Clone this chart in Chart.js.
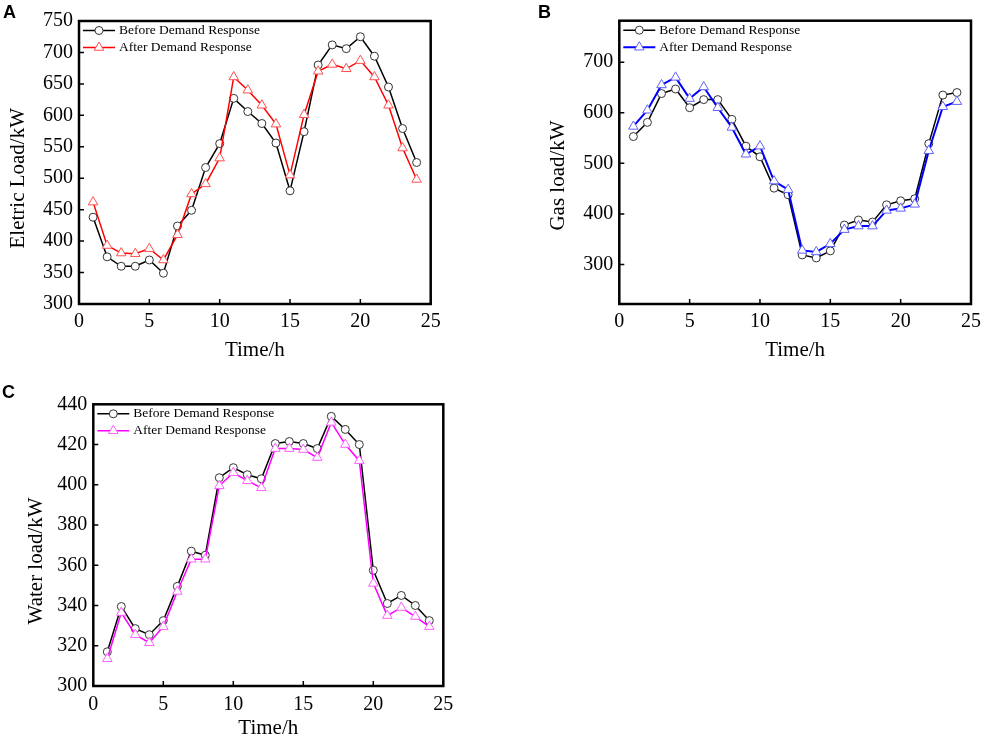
<!DOCTYPE html>
<html>
<head>
<meta charset="utf-8">
<script src="https://cdn.jsdelivr.net/npm/chart.js@4.4.0/dist/chart.umd.min.js"></script>
<style>
  body { margin: 0; background: #fff; width: 982px; height: 736px; position: relative; overflow: hidden; }
  canvas { position: absolute; }
  .tag { position: absolute; font: bold 18px "Liberation Sans", Arial, sans-serif; line-height: 1; color: #000; }
</style>
</head>
<body>
<canvas id="chartA" width="490" height="361" style="left:0;top:0"></canvas>
<canvas id="chartB" width="439" height="361" style="left:543px;top:0"></canvas>
<canvas id="chartC" width="480" height="366" style="left:21px;top:370px"></canvas>
<div class="tag" style="left:3px;top:3px">A</div>
<div class="tag" style="left:538px;top:3px">B</div>
<div class="tag" style="left:2px;top:383px">C</div>
<script>
// horas del dia y marcas de los ejes
var hours = [1, 2, 3, 4, 5, 6, 7, 8, 9, 10, 11, 12, 13, 14, 15, 16, 17, 18, 19, 20, 21, 22, 23, 24];
var xTicks = [0, 5, 10, 15, 20, 25];

// A: carga electrica
var elecBefore = [438, 375, 360, 360, 370, 349, 424, 449, 517, 555, 627, 606, 587, 556, 480, 574, 680, 712, 706, 725, 694, 645, 579, 525];
var elecAfter = [462, 393, 381, 380, 388, 370, 410, 475, 491, 532, 661, 640, 616, 586, 505, 601, 670, 681, 674, 687, 661, 616, 548, 498];
var elecTicks = [300, 350, 400, 450, 500, 550, 600, 650, 700, 750];

// B: carga de gas
var gasBefore = [553, 581, 638, 647, 610, 626, 626, 587, 534, 513, 451, 438, 319, 313, 327, 378, 388, 384, 418, 426, 430, 539, 635, 640];
var gasAfter = [573, 605, 655, 670, 628, 651, 610, 571, 518, 534, 465, 448, 328, 325, 341, 369, 376, 376, 407, 411, 419, 525, 612, 622];
var gasTicks = [300, 400, 500, 600, 700];

// C: carga de agua
var waterBefore = [317, 339.5, 328.5, 325.5, 332.5, 349.5, 367, 365, 403.5, 408.5, 405, 403, 420.5, 421.5, 420.5, 418, 434, 427.5, 420, 357.5, 341, 345, 340, 332.5];
var waterAfter = [313.5, 336.5, 325.5, 321.5, 329.5, 347, 363, 363, 399.5, 406, 402, 398.5, 418, 418, 417.5, 413.5, 431, 420, 412, 351, 335, 339, 334.5, 329.5];
var waterTicks = [300, 320, 340, 360, 380, 400, 420, 440];

Chart.defaults.font.family = '"Liberation Serif", "Times New Roman", serif';
Chart.defaults.color = '#000';

function marker(ctx, style, x, y, r) {
  ctx.beginPath();
  if (style === 'circle') {
    ctx.arc(x, y, r, 0, Math.PI * 2);
  } else {
    for (var k = 0; k < 3; k++) {
      var a = k * 2 * Math.PI / 3;
      ctx.lineTo(x + Math.sin(a) * r, y - Math.cos(a) * r);
    }
    ctx.closePath();
  }
  ctx.fill();
  ctx.stroke();
}

// marco, marcas hacia dentro y leyenda dentro del area
var frame = {
  id: 'frame',
  afterDraw: function (chart) {
    var ctx = chart.ctx, a = chart.chartArea;
    var xs = chart.scales.x, ys = chart.scales.y;
    ctx.save();
    ctx.strokeStyle = '#000';
    ctx.lineWidth = 1.5;
    ctx.beginPath();
    xs.ticks.forEach(function (t) {
      var px = xs.getPixelForValue(t.value);
      ctx.moveTo(px, a.bottom);
      ctx.lineTo(px, a.bottom - 5);
    });
    ys.ticks.forEach(function (t) {
      var py = ys.getPixelForValue(t.value);
      ctx.moveTo(a.left, py);
      ctx.lineTo(a.left + 5, py);
    });
    ctx.stroke();
    ctx.lineWidth = 2.5;
    ctx.strokeRect(a.left, a.top, a.right - a.left, a.bottom - a.top);
    chart.data.datasets.forEach(function (ds, i) {
      var y = a.top + 9.5 + i * 17;
      ctx.strokeStyle = ds.borderColor;
      ctx.lineWidth = ds.borderWidth;
      ctx.beginPath();
      ctx.moveTo(a.left + 4, y);
      ctx.lineTo(a.left + 36, y);
      ctx.stroke();
      ctx.fillStyle = '#fff';
      ctx.strokeStyle = ds.pointBorderColor;
      ctx.lineWidth = 1;
      marker(ctx, ds.pointStyle, a.left + 20, y, ds.pointRadius);
      ctx.fillStyle = '#000';
      ctx.font = '13.5px "Liberation Serif", "Times New Roman", serif';
      ctx.textBaseline = 'middle';
      ctx.textAlign = 'left';
      ctx.fillText(ds.label, a.left + 40, y);
    });
    ctx.restore();
  }
};

function makePanel(id, p) {
  var ctx = document.getElementById(id).getContext('2d');
  return new Chart(ctx, {
    type: 'line',
    data: {
      datasets: [{
        label: 'Before Demand Response',
        data: hours.map(function (h, i) { return { x: h, y: p.before[i] }; }),
        borderColor: '#000',
        borderWidth: 1.5,
        pointStyle: 'circle',
        pointRadius: 4,
        pointBorderColor: '#333',
        pointBackgroundColor: '#fff',
        pointBorderWidth: 1,
        order: 1
      }, {
        label: 'After Demand Response',
        data: hours.map(function (h, i) { return { x: h, y: p.after[i] }; }),
        borderColor: p.color,
        borderWidth: p.width,
        pointStyle: 'triangle',
        pointRadius: 5.5,
        pointBorderColor: p.mark,
        pointBackgroundColor: '#fff',
        pointBorderWidth: 1,
        order: 0
      }]
    },
    options: {
      responsive: false,
      animation: false,
      layout: { padding: p.pad },
      plugins: { legend: { display: false }, tooltip: { enabled: false } },
      scales: {
        x: {
          type: 'linear', min: 0, max: 25,
          afterBuildTicks: function (s) { s.ticks = xTicks.map(function (v) { return { value: v }; }); },
          afterFit: function (s) { s.height = p.xh; s.paddingLeft = 0; s.paddingRight = 0; },
          grid: { display: false, drawTicks: false },
          border: { display: false },
          ticks: { font: { size: 20 }, padding: p.xpad, maxRotation: 0, autoSkip: false },
          title: { display: true, text: 'Time/h', font: { size: 21, lineHeight: 1 }, padding: { top: 0, bottom: p.xtpad } }
        },
        y: {
          type: 'linear', min: p.min, max: p.max,
          afterBuildTicks: function (s) { s.ticks = p.ticks.map(function (v) { return { value: v }; }); },
          afterFit: function (s) { s.width = p.yw; s.paddingTop = 0; s.paddingBottom = 0; },
          grid: { display: false, drawTicks: false },
          border: { display: false },
          ticks: { font: { size: 20 }, padding: 6, autoSkip: false },
          title: { display: true, text: p.title, font: { size: 21, lineHeight: 1 }, padding: { top: p.tpad, bottom: 0 } }
        }
      }
    },
    plugins: [frame]
  });
}

makePanel('chartA', {
  before: elecBefore, after: elecAfter, ticks: elecTicks, min: 300, max: 750,
  color: '#ff0000', mark: '#ff5050', width: 1.5,
  title: 'Eletric Load/kW      ', tpad: 7.5,
  pad: { top: 21, right: 59.3, bottom: 0, left: 0 }, yw: 79, xh: 57, xpad: 6, xtpad: 0
});

makePanel('chartB', {
  before: gasBefore, after: gasAfter, ticks: gasTicks, min: 222, max: 782,
  color: '#0000ff', mark: '#6060ff', width: 2,
  title: 'Gas load/kW     ', tpad: 4.5,
  pad: { top: 20.7, right: 11, bottom: 0, left: 0 }, yw: 76.3, xh: 57, xpad: 6, xtpad: 0
});

makePanel('chartC', {
  before: waterBefore, after: waterAfter, ticks: waterTicks, min: 300, max: 440,
  color: '#ff00ff', mark: '#ff60ff', width: 1.5,
  title: 'Water load/kW      ', tpad: 5,
  pad: { top: 34.3, right: 57.7, bottom: 0, left: 0 }, yw: 72.3, xh: 50, xpad: 7, xtpad: -3
});
</script>
</body>
</html>
